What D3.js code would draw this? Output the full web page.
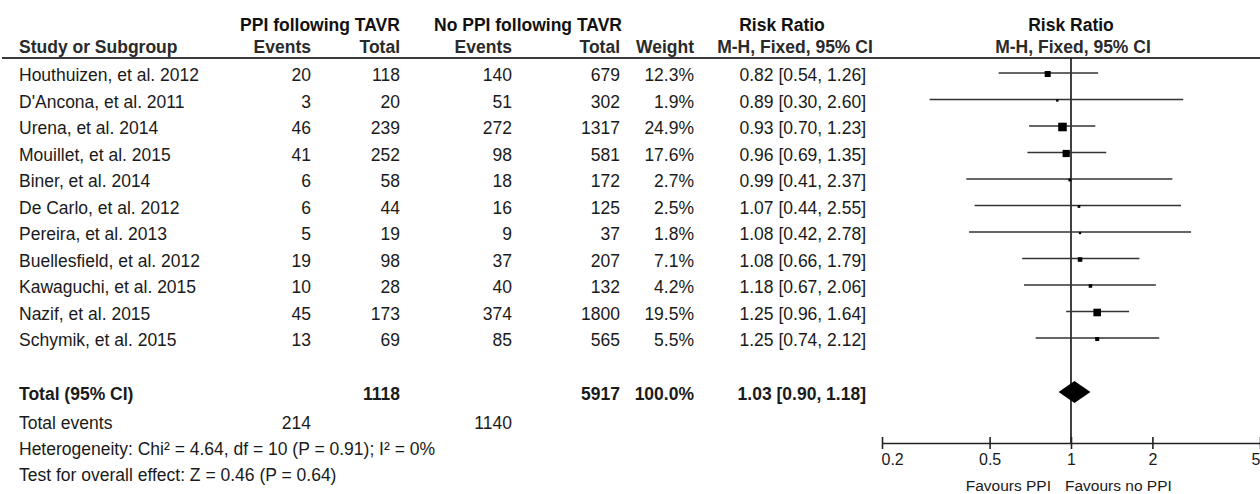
<!DOCTYPE html>
<html>
  <head>
    <meta charset="UTF-8">
    <style>
      body {
        margin: 0;
        background: #fff;
      }

      svg {
        display: block;
        font-family: "Liberation Sans", Arial, sans-serif;
      }

      .head1 {
        font-size: 17.5px;
        font-weight: bold;
        fill: #111;
      }

      .head2 {
        font-size: 17.5px;
        font-weight: bold;
        fill: #2a2a2a;
      }

      .cell {
        font-size: 17.5px;
        fill: #1a1a1a;
      }

      .bold {
        font-weight: bold;
      }

      .axis text {
        font-size: 16px;
        fill: #1a1a1a;
      }
    </style>
    <script src="https://d3js.org/d3.v7.min.js"></script>
  </head>

  <body>
    <svg id="forest-chart"></svg>

    <script type="text/javascript">
      let studies = ['Houthuizen, et al. 2012', "D'Ancona, et al. 2011", 'Urena, et al. 2014', 'Mouillet, et al. 2015',
        'Biner, et al. 2014', 'De Carlo, et al. 2012', 'Pereira, et al. 2013', 'Buellesfield, et al. 2012',
        'Kawaguchi, et al. 2015', 'Nazif, et al. 2015', 'Schymik, et al. 2015']
      let ppiEvents = [20, 3, 46, 41, 6, 6, 5, 19, 10, 45, 13]
      let ppiTotal = [118, 20, 239, 252, 58, 44, 19, 98, 28, 173, 69]
      let noPpiEvents = [140, 51, 272, 98, 18, 16, 9, 37, 40, 374, 85]
      let noPpiTotal = [679, 302, 1317, 581, 172, 125, 37, 207, 132, 1800, 565]
      let weights = [12.3, 1.9, 24.9, 17.6, 2.7, 2.5, 1.8, 7.1, 4.2, 19.5, 5.5]
      let riskRatio = [0.82, 0.89, 0.93, 0.96, 0.99, 1.07, 1.08, 1.08, 1.18, 1.25, 1.25]
      let ciLow = [0.54, 0.30, 0.70, 0.69, 0.41, 0.44, 0.42, 0.66, 0.67, 0.96, 0.74]
      let ciHigh = [1.26, 2.60, 1.23, 1.35, 2.37, 2.55, 2.78, 1.79, 2.06, 1.64, 2.12]

      let pooled = {rr: 1.03, low: 0.90, high: 1.18, ppiTotal: 1118, noPpiTotal: 5917, weight: 100.0}
      let totalEvents = [214, 1140]
      let heterogeneityText = 'Heterogeneity: Chi² = 4.64, df = 10 (P = 0.91); I² = 0%'
      let overallText = 'Test for overall effect: Z = 0.46 (P = 0.64)'
      let axisTicks = [0.2, 0.5, 1, 2, 5]

      let width = 1260
      let height = 494

      // right edges of the number columns
      let cols = {study: 19, ev1: 311, tot1: 400, ev2: 512, tot2: 620, weight: 694, ci: 866}

      let svg = d3.select('#forest-chart')
        .attr('width', width)
        .attr('height', height)

      let x = d3.scaleLog()
        .domain([0.2, 5])
        .range([882, 1260])

      let y = d3.scaleLinear()
        .domain([0, studies.length - 1])
        .range([73, 338])

      let boxSize = d3.scaleSqrt()
        .domain([0, 25])
        .range([0, 8.6])

      let f2 = d3.format('.2f')
      let f1 = d3.format('.1f')

      function addText(cls, tx, ty, txt, anchor) {
        return svg.append('text')
          .attr('class', cls)
          .attr('x', tx)
          .attr('y', ty)
          .attr('text-anchor', anchor || 'start')
          .text(txt)
      }

      function drawHeader() {
        addText('head1', 320, 31, 'PPI following TAVR', 'middle')
        addText('head1', 528, 31, 'No PPI following TAVR', 'middle')
        addText('head1', 782, 31, 'Risk Ratio', 'middle')
        addText('head1', 1071, 31, 'Risk Ratio', 'middle')

        addText('head2', cols.study, 53, 'Study or Subgroup')
        addText('head2', cols.ev1, 53, 'Events', 'end')
        addText('head2', cols.tot1, 53, 'Total', 'end')
        addText('head2', cols.ev2, 53, 'Events', 'end')
        addText('head2', cols.tot2, 53, 'Total', 'end')
        addText('head2', cols.weight, 53, 'Weight', 'end')
        addText('head2', 795, 53, 'M-H, Fixed, 95% CI', 'middle')
        addText('head2', 1073, 53, 'M-H, Fixed, 95% CI', 'middle')

        svg.append('line')
          .attr('x1', 2)
          .attr('x2', width)
          .attr('y1', 58)
          .attr('y2', 58)
          .attr('stroke', '#3a3a3a')
          .attr('stroke-width', 2.2)
      }

      function drawTable() {
        let rows = svg.append('g')
          .selectAll('g')
          .data(studies)
          .join('g')
          .attr('transform', (d, i) => `translate(0, ${y(i) + 8})`)

        rows.append('text').attr('class', 'cell').attr('x', cols.study).text(d => d)
        rows.append('text').attr('class', 'cell').attr('x', cols.ev1).attr('text-anchor', 'end').text((d, i) => ppiEvents[i])
        rows.append('text').attr('class', 'cell').attr('x', cols.tot1).attr('text-anchor', 'end').text((d, i) => ppiTotal[i])
        rows.append('text').attr('class', 'cell').attr('x', cols.ev2).attr('text-anchor', 'end').text((d, i) => noPpiEvents[i])
        rows.append('text').attr('class', 'cell').attr('x', cols.tot2).attr('text-anchor', 'end').text((d, i) => noPpiTotal[i])
        rows.append('text').attr('class', 'cell').attr('x', cols.weight).attr('text-anchor', 'end').text((d, i) => f1(weights[i]) + '%')
        rows.append('text').attr('class', 'cell').attr('x', cols.ci).attr('text-anchor', 'end')
          .text((d, i) => `${f2(riskRatio[i])} [${f2(ciLow[i])}, ${f2(ciHigh[i])}]`)

        // pooled row
        let ty = 400
        addText('cell bold', cols.study, ty, 'Total (95% CI)')
        addText('cell bold', cols.tot1, ty, pooled.ppiTotal, 'end')
        addText('cell bold', cols.tot2, ty, pooled.noPpiTotal, 'end')
        addText('cell bold', cols.weight, ty, f1(pooled.weight) + '%', 'end')
        addText('cell bold', cols.ci, ty, `${f2(pooled.rr)} [${f2(pooled.low)}, ${f2(pooled.high)}]`, 'end')

        addText('cell', cols.study, 429, 'Total events')
        addText('cell', cols.ev1, 429, totalEvents[0], 'end')
        addText('cell', cols.ev2, 429, totalEvents[1], 'end')
        addText('cell', cols.study, 455, heterogeneityText)
        addText('cell', cols.study, 481, overallText)
      }

      function drawForest() {
        let axisY = 443
        let plot = svg.append('g')

        plot.append('line')
          .attr('x1', x(1))
          .attr('x2', x(1))
          .attr('y1', 58)
          .attr('y2', axisY)
          .attr('stroke', '#111')
          .attr('stroke-width', 1.6)

        plot.selectAll('.ci')
          .data(studies)
          .join('line')
          .attr('class', 'ci')
          .attr('x1', (d, i) => x(ciLow[i]))
          .attr('x2', (d, i) => x(ciHigh[i]))
          .attr('y1', (d, i) => y(i))
          .attr('y2', (d, i) => y(i))
          .attr('stroke', '#333')
          .attr('stroke-width', 1.6)

        plot.selectAll('.box')
          .data(studies)
          .join('rect')
          .attr('class', 'box')
          .attr('x', (d, i) => x(riskRatio[i]) - boxSize(weights[i]) / 2)
          .attr('y', (d, i) => y(i) - boxSize(weights[i]) / 2 + 1)
          .attr('width', (d, i) => boxSize(weights[i]))
          .attr('height', (d, i) => boxSize(weights[i]))
          .attr('fill', '#000')

        let dy = 392
        plot.append('path')
          .attr('d', `M${x(pooled.low)},${dy} L${x(pooled.rr)},${dy - 11} L${x(pooled.high)},${dy} L${x(pooled.rr)},${dy + 11} Z`)
          .attr('fill', '#000')

        let axis = plot.append('g')
          .attr('class', 'axis')
          .attr('transform', `translate(0, ${axisY})`)
          .call(d3.axisBottom(x)
            .tickValues(axisTicks)
            .tickFormat(d => d)
            .tickSizeOuter(0)
            .tickSizeInner(6))

        axis.attr('font-family', null).attr('font-size', null)
        axis.select('.domain').attr('stroke', '#222').attr('stroke-width', 1.6)
        axis.selectAll('.tick line').attr('y1', -6).attr('y2', 6).attr('stroke', '#222').attr('stroke-width', 1.6)
        axis.selectAll('.tick text').attr('y', 22).attr('dy', null)
        axis.selectAll('.tick text').filter(d => d === 0.2).attr('text-anchor', 'start').attr('x', -1)
        axis.selectAll('.tick text').filter(d => d === 5).attr('text-anchor', 'end').attr('x', 0)

        svg.append('text')
          .attr('x', x(1) - 20)
          .attr('y', 491)
          .attr('text-anchor', 'end')
          .attr('font-size', 15.5)
          .attr('fill', '#1a1a1a')
          .text('Favours PPI')

        svg.append('text')
          .attr('x', x(1) - 6)
          .attr('y', 491)
          .attr('font-size', 15.5)
          .attr('fill', '#1a1a1a')
          .text('Favours no PPI')
      }

      drawHeader()
      drawTable()
      drawForest()
    </script>
  </body>
</html>
